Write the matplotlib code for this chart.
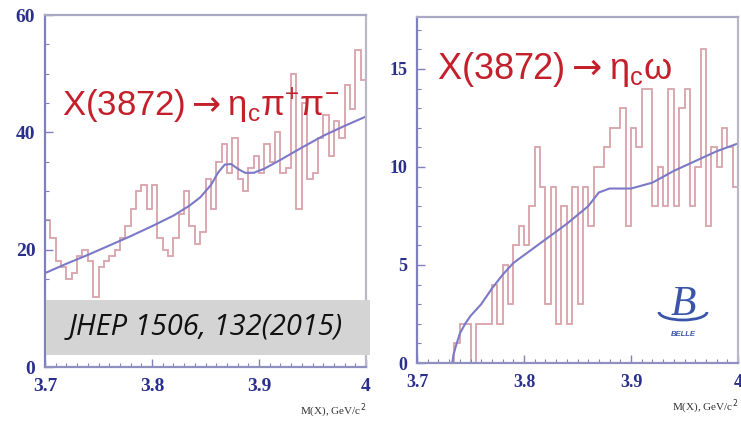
import numpy as np
import matplotlib
matplotlib.use("Agg")
import matplotlib.pyplot as plt
from matplotlib.ticker import MultipleLocator
from matplotlib.patches import Rectangle, Arc

# 5 MeV bins from 3.700 to 4.000 GeV
bin_lo = 3.7
bin_w = 0.005
n_bins = 60

# X(3872) -> eta_c pi+ pi- candidates per bin
counts_pipi = [25, 22, 18, 17, 15, 16, 19, 20, 18, 12,
               17, 18, 19, 20, 22, 24, 27, 30, 31, 27,
               31, 22, 20, 19, 22, 26, 30, 24, 21, 23,
               32, 27, 35, 38, 33, 39, 32, 30, 34, 36,
               33, 38, 35, 40, 33, 34, 50, 27, 45, 32,
               33, 39, 43, 36, 42, 39, 48, 44, 54, 49]

# X(3872) -> eta_c omega candidates per bin
counts_omega = [0, 0, 0, 0, 0, 0, 0, 1, 2, 2,
                0, 2, 2, 2, 4, 2, 5, 3, 6, 7,
                6, 8, 11, 9, 3, 9, 2, 8, 2, 9,
                3, 9, 7, 10, 10, 11, 12, 12, 13, 7,
                12, 11, 14, 14, 8, 10, 8, 14, 8, 13,
                14, 8, 10, 16, 7, 11, 10, 12, 11, 9]

# fitted curves (mass, events)
fit_pipi_m = [3.700, 3.720, 3.740, 3.760, 3.780, 3.800, 3.820, 3.835, 3.845,
              3.855, 3.862, 3.868, 3.874, 3.880, 3.887, 3.895, 3.905, 3.920,
              3.940, 3.960, 3.980, 4.000]
fit_pipi_n = [16.0, 17.6, 19.1, 20.7, 22.3, 24.0, 25.8, 27.5, 28.9,
              31.0, 33.2, 34.5, 34.6, 33.8, 33.1, 33.1, 33.8, 35.3,
              37.4, 39.4, 41.1, 42.7]

fit_omega_m = [3.733, 3.734, 3.736, 3.740, 3.745, 3.750, 3.760, 3.770, 3.780,
               3.790, 3.800, 3.820, 3.840, 3.860, 3.870, 3.880, 3.900, 3.920,
               3.940, 3.960, 3.980, 4.000]
fit_omega_n = [0.0, 0.4, 0.8, 1.5, 2.0, 2.4, 3.0, 3.8, 4.5,
               5.1, 5.5, 6.3, 7.1, 8.0, 8.7, 8.9, 8.9, 9.2,
               9.8, 10.3, 10.8, 11.2]

x_ticks = [3.7, 3.8, 3.9, 4.0]
x_tick_labels = ["3.7", "3.8", "3.9", "4"]

plt.rcParams["font.family"] = ["Liberation Sans", "DejaVu Sans"]

hist_col = "#d9a3aa"
fit_col = "#7b78c8"
tick_col = "#2b2f8c"
title_col = "#c4202c"

edges = bin_lo + bin_w * np.arange(n_bins + 1)

fig = plt.figure(figsize=(7.41, 4.24), dpi=100)
ax1 = fig.add_axes([45 / 741, 1 - 367 / 424, 321 / 741, 352 / 424])
ax2 = fig.add_axes([417 / 741, 1 - 363 / 424, 321 / 741, 346 / 424])


def style_axis(ax, ymax, ymajor, yminor, lab_size):
    ax.set_xlim(3.7, 4.0)
    ax.set_ylim(0, ymax)
    ax.set_xticks(x_ticks)
    ax.set_xticklabels(x_tick_labels)
    ax.xaxis.set_minor_locator(MultipleLocator(0.01))
    ax.yaxis.set_major_locator(MultipleLocator(ymajor))
    ax.yaxis.set_minor_locator(MultipleLocator(yminor))
    ax.tick_params(which="both", direction="in", colors="#7f80bd",
                   labelcolor=tick_col)
    ax.tick_params(which="major", length=6, width=1)
    ax.tick_params(which="minor", length=3, width=0.8)
    ax.tick_params(axis="x", which="major", pad=8)
    ax.tick_params(axis="y", which="major", pad=7)
    for lab in ax.get_xticklabels() + ax.get_yticklabels():
        lab.set_fontfamily("Liberation Serif")
        lab.set_fontweight("bold")
        lab.set_fontsize(lab_size)
    ax.spines["left"].set_color("#7f80bd")
    ax.spines["bottom"].set_color("#8f90c0")
    ax.spines["top"].set_color("#a9a9c4")
    ax.spines["right"].set_color("#b8b8c8")
    for s in ax.spines.values():
        s.set_linewidth(1.6)
    ax.text(1.0, -0.1, "M(X), GeV/c$^2$", transform=ax.transAxes,
            ha="right", va="top", fontsize=8, color="#333333",
            family="Liberation Serif")


# left: eta_c pi pi
ax1.stairs(counts_pipi, edges, color=hist_col, lw=1.3)
ax1.plot(fit_pipi_m, fit_pipi_n, color=fit_col, lw=1.5)
style_axis(ax1, 60, 20, 5, 14)
ax1.text(3.716, 42.7, "X(3872)$\\rightarrow\\mathregular{η_cπ^{+}π^{-}}$",
         color=title_col, fontsize=25, va="baseline", ha="left")

# right: eta_c omega
ax2.stairs(counts_omega, edges, color=hist_col, lw=1.3)
ax2.plot(fit_omega_m, fit_omega_n, color=fit_col, lw=1.5)
style_axis(ax2, 17.65, 5, 1, 13)
ax2.text(3.719, 14.5, "X(3872)$\\rightarrow\\mathregular{η_cω}$",
         color=title_col, fontsize=26, va="baseline", ha="left")

# reference box
fig.patches.append(Rectangle((46 / 741, 1 - 355 / 424), 324 / 741, 55 / 424,
                             transform=fig.transFigure, facecolor="#d4d4d4",
                             edgecolor="none", zorder=5))
fig.text(206 / 741, 1 - 327 / 424, "JHEP 1506, 132(2015)", ha="center",
         va="center", fontsize=21, style="italic", color="#111111",
         family="Open Sans", zorder=6)

# Belle logo
fig.text(683 / 741, 1 - 305 / 424, "B", ha="center", va="center",
         fontsize=30, style="italic", color="#3a55a8",
         family="Liberation Serif")
fig.patches.append(Arc((683 / 741, 1 - 312 / 424), 48 / 741, 16 / 424,
                       theta1=180, theta2=360, transform=fig.transFigure,
                       color="#3a55a8", lw=2))
fig.text(683 / 741, 1 - 334 / 424, "BELLE", ha="center", va="center",
         fontsize=5.5, style="italic", color="#3a55a8", weight="bold")

fig.savefig("out.png", dpi=100)
